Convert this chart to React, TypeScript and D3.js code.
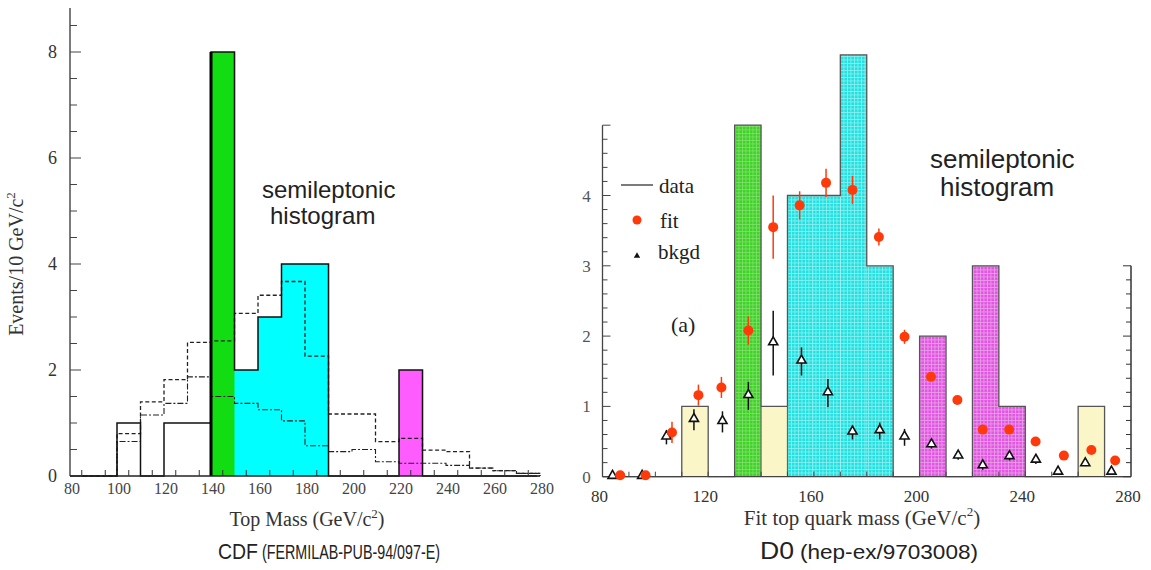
import React from 'react';
import * as d3 from 'd3';

// ---------- shared bins (GeV/c^2) ----------
const binStarts = d3.range(80, 280, 10);

// ---------- CDF panel ----------
const cdfCounts = [0, 0, 1, 0, 1, 1, 8, 2, 3, 4, 4, 0, 0, 0, 2, 0, 0, 0, 0, 0];
const cdfColors = ['', '', '', '', '', '', 'green', 'cyan', 'cyan', 'cyan', 'cyan', '', '', '', 'magenta', '', '', '', '', ''];
const cdfSigBkg = [0, 0, 0.8, 1.4, 1.82, 2.52, 2.55, 3.07, 3.41, 3.67, 2.26, 1.17, 1.17, 0.65, 0.71, 0.49, 0.46, 0.15, 0.1, 0.05];
const cdfBkg = [0, 0, 0.65, 1.15, 1.37, 1.87, 1.5, 1.37, 1.25, 1.04, 0.57, 0.46, 0.5, 0.27, 0.24, 0.24, 0.2, 0.15, 0.1, 0.05];
const cdfYLabels = [0, 2, 4, 6, 8];
const cdfXLabels = [80, 100, 120, 140, 160, 180, 200, 220, 240, 260, 280];

// ---------- D0 panel ----------
const d0Counts = [0, 0, 0, 1, 0, 5, 1, 4, 4, 6, 3, 0, 2, 0, 3, 1, 0, 0, 1, 0];
const d0Colors = ['', '', '', 'beige', '', 'green', 'beige', 'cyan', 'cyan', 'cyan', 'cyan', '', 'magenta', '', 'magenta', 'magenta', '', '', 'beige', ''];
const d0FitMass = [86.7, 96.3, 106.3, 116.3, 125, 135.2, 144.6, 154.6, 164.6, 174.6, 184.6, 194.3, 204.3, 214.3, 223.9, 233.9, 243.9, 254.6, 265, 274];
const d0Fit = [0.02, 0.02, 0.63, 1.16, 1.27, 2.08, 3.55, 3.86, 4.18, 4.08, 3.41, 1.99, 1.42, 1.09, 0.67, 0.67, 0.5, 0.3, 0.38, 0.23];
const d0FitErr = [0, 0, 0.15, 0.15, 0.15, 0.2, 0.45, 0.2, 0.2, 0.2, 0.12, 0.1, 0.05, 0.05, 0.05, 0.05, 0.05, 0.03, 0.05, 0.03];
const d0BkgMass = [83.8, 95, 104.2, 114.6, 125.4, 135.2, 144.6, 155.3, 165.3, 174.6, 184.9, 194.3, 204.5, 214.6, 223.9, 234, 244, 252.4, 262.7, 272.6];
const d0Bkg = [0.0, 0.0, 0.56, 0.81, 0.78, 1.15, 1.9, 1.64, 1.19, 0.63, 0.65, 0.56, 0.45, 0.29, 0.15, 0.28, 0.23, 0.06, 0.18, 0.06];
const d0BkgErr = [0, 0, 0.1, 0.15, 0.15, 0.2, 0.46, 0.2, 0.2, 0.1, 0.12, 0.12, 0.05, 0.05, 0.05, 0.05, 0.05, 0.03, 0.03, 0.03];
const d0YLabels = [0, 1, 2, 3, 4];
const d0XLabels = [80, 120, 160, 200, 240, 280];

const cdfFillColor: Record<string, string> = { green: '#12dd12', cyan: '#00ffff', magenta: '#ff5cff' };
const d0Base: Record<string, string> = { green: '#42d02a', cyan: '#26e0e0', magenta: '#e058e0', beige: '#faf6c8' };
const d0Grid: Record<string, string> = { green: '#7fe26a', cyan: '#8af2f2', magenta: '#eea0ee', beige: '#faf6c8' };

const serif = '"Liberation Serif", "DejaVu Serif", serif';
const sans = '"Liberation Sans", Arial, sans-serif';

function stepPath(x: d3.ScaleLinear<number, number>, y: d3.ScaleLinear<number, number>, vals: number[]) {
  const pts: [number, number][] = [[80, 0], ...binStarts.map((b, i) => [b, vals[i]] as [number, number]), [280, 0]];
  return d3.line<[number, number]>().x(d => x(d[0])).y(d => y(d[1])).curve(d3.curveStepAfter)(pts) || '';
}

export default function App() {
  // CDF scales
  const cx = d3.scaleLinear().domain([80, 280]).range([70, 540]);
  const cy = d3.scaleLinear().domain([0, 8]).range([476, 52]);
  // D0 scales
  const dx = d3.scaleLinear().domain([80, 280]).range([602.5, 1131]);
  const dy = d3.scaleLinear().domain([0, 5]).range([476.7, 125.2]);

  const cdfMinorY = d3.range(0, 8.51, 0.5);
  const cdfXTicks = d3.range(85, 280, 10);
  const d0LeftTicks = d3.range(0, 5.01, 0.2);
  const d0RightTicks = d3.range(0, 3.01, 0.2);
  const d0XTicks = d3.range(90, 280, 10);
  const tri = d3.symbol(d3.symbolTriangle, 36)() || '';
  const triSmall = d3.symbol(d3.symbolTriangle, 18)() || '';

  return (
    <svg width={1151} height={570} style={{ position: 'absolute', left: 0, top: 0, background: '#fff' }}>
      <defs>
        {['green', 'cyan', 'magenta'].map(c => (
          <pattern key={c} id={`grid-${c}`} width={3.5} height={3.5} patternUnits="userSpaceOnUse">
            <rect width={3.5} height={3.5} fill={d0Base[c]} />
            <path d="M0,0.4H3.5M0.4,0V3.5" stroke={d0Grid[c]} strokeWidth={0.8} />
          </pattern>
        ))}
      </defs>

      {/* ================= CDF ================= */}
      <g>
        {binStarts.map((b, i) =>
          cdfColors[i] ? (
            <rect key={b} x={cx(b)} y={cy(cdfCounts[i])} width={cx(b + 10) - cx(b) + 0.6} height={cy(0) - cy(cdfCounts[i])}
              fill={cdfFillColor[cdfColors[i]]} />
          ) : null
        )}
        <path d={stepPath(cx, cy, cdfSigBkg)} fill="none" stroke="#222" strokeWidth={1.3} strokeDasharray="4,2.5" />
        <path d={stepPath(cx, cy, cdfBkg)} fill="none" stroke="#222" strokeWidth={1.1} strokeDasharray="6,2,2,2" />
        <path d={stepPath(cx, cy, cdfCounts)} fill="none" stroke="#111" strokeWidth={1.5} />
        <line x1={cx(140)} x2={cx(140)} y1={cy(0)} y2={cy(8)} stroke="#000" strokeWidth={3} />
        {/* axes */}
        <line x1={cx(80)} x2={cx(80)} y1={cy(0)} y2={8} stroke="#333" strokeWidth={1.3} />
        <line x1={cx(80)} x2={cx(280) - 3} y1={cy(0)} y2={cy(0)} stroke="#222" strokeWidth={1.5} />
        {cdfMinorY.map(v => (
          <line key={v} x1={cx(80)} x2={cx(80) + (v % 2 === 0 ? 11 : 7)} y1={cy(v)} y2={cy(v)} stroke="#444" strokeWidth={1} />
        ))}
        {cdfXTicks.map(v => (
          <line key={v} x1={cx(v)} x2={cx(v)} y1={cy(0)} y2={cy(0) - 6} stroke="#333" strokeWidth={1} />
        ))}
        {cdfYLabels.map(v => (
          <text key={v} x={cx(80) - 13} y={cy(v) + 6} textAnchor="end" fontFamily={serif} fontSize={18} fill="#333">{v}</text>
        ))}
        {cdfXLabels.map(v => (
          <text key={v} x={cx(v) + 2} y={494} textAnchor="middle" fontFamily={serif} fontSize={16} fill="#444">{v}</text>
        ))}
        <text transform="translate(23,264) rotate(-90)" textAnchor="middle" fontFamily={serif} fontSize={20} fill="#333">
          Events/10 GeV/c<tspan dy={-8} fontSize={13}>2</tspan>
        </text>
        <text x={307} y={526} textAnchor="middle" fontFamily={serif} fontSize={20} fill="#333">
          Top Mass (GeV/c<tspan dy={-8} fontSize={13}>2</tspan><tspan dy={8}>)</tspan>
        </text>
        <text x={262} y={198} fontFamily={sans} fontSize={24} fill="#222">semileptonic</text>
        <text x={270} y={224} fontFamily={sans} fontSize={24} fill="#222">histogram</text>
        <text x={218} y={559} fontFamily={sans} fontSize={22} fill="#222" textLength={40} lengthAdjust="spacingAndGlyphs">CDF</text>
        <text x={262} y={559} fontFamily={sans} fontSize={21} fill="#222" textLength={178} lengthAdjust="spacingAndGlyphs">(FERMILAB-PUB-94/097-E)</text>
      </g>

      {/* ================= D0 ================= */}
      <g>
        {binStarts.map((b, i) =>
          d0Colors[i] ? (
            <rect key={b} x={dx(b)} y={dy(d0Counts[i])} width={dx(b + 10) - dx(b)} height={dy(0) - dy(d0Counts[i])}
              fill={d0Colors[i] === 'beige' ? d0Base.beige : `url(#grid-${d0Colors[i]})`} />
          ) : null
        )}
        <path d={stepPath(dx, dy, d0Counts)} fill="none" stroke="#555" strokeWidth={1.3} />
        {/* separations between adjacent bars of different colour */}
        {binStarts.map((b, i) =>
          i > 0 && d0Colors[i] && d0Colors[i - 1] && d0Colors[i] !== d0Colors[i - 1] ? (
            <line key={`s${b}`} x1={dx(b)} x2={dx(b)} y1={dy(0)} y2={dy(Math.min(d0Counts[i], d0Counts[i - 1]))} stroke="#666" strokeWidth={1.2} />
          ) : null
        )}
        {/* axes */}
        <line x1={dx(80)} x2={dx(80)} y1={dy(0)} y2={dy(5)} stroke="#444" strokeWidth={1.3} />
        <line x1={dx(80)} x2={dx(280)} y1={dy(0)} y2={dy(0)} stroke="#444" strokeWidth={1.3} />
        <line x1={dx(280)} x2={dx(280)} y1={dy(0)} y2={dy(3)} stroke="#333" strokeWidth={1.5} />
        {d0LeftTicks.map(v => (
          <line key={v} x1={dx(80)} x2={dx(80) + (Math.abs(v - Math.round(v)) < 0.01 ? 8 : 5)} y1={dy(v)} y2={dy(v)} stroke="#444" strokeWidth={1} />
        ))}
        {d0RightTicks.map(v => (
          <line key={v} x1={dx(280)} x2={dx(280) - (Math.abs(v - Math.round(v)) < 0.01 ? 8 : 5)} y1={dy(v)} y2={dy(v)} stroke="#333" strokeWidth={1} />
        ))}
        {d0XTicks.map(v => (
          <line key={v} x1={dx(v)} x2={dx(v)} y1={dy(0)} y2={dy(0) - 5} stroke="#444" strokeWidth={1} />
        ))}
        {d0YLabels.map(v => (
          <text key={v} x={dx(80) - 16} y={dy(v) + 6} textAnchor="middle" fontFamily={serif} fontSize={17} fill="#555">{v}</text>
        ))}
        {d0XLabels.map(v => (
          <text key={v} x={dx(v) - 3} y={502} textAnchor="middle" fontFamily={serif} fontSize={17} fill="#333">{v}</text>
        ))}
        {/* bkgd points */}
        {d0Bkg.map((v, i) => (
          <g key={`b${i}`}>
            {d0BkgErr[i] > 0 && (
              <line x1={dx(d0BkgMass[i])} x2={dx(d0BkgMass[i])} y1={dy(v - d0BkgErr[i])} y2={dy(v + d0BkgErr[i])} stroke="#111" strokeWidth={1.5} />
            )}
            <path d={tri} transform={`translate(${dx(d0BkgMass[i])},${dy(v) - 1})`} fill="#fff" stroke="#111" strokeWidth={1.6} />
          </g>
        ))}
        {/* fit points */}
        {d0Fit.map((v, i) => (
          <g key={`f${i}`}>
            {d0FitErr[i] > 0 && (
              <line x1={dx(d0FitMass[i])} x2={dx(d0FitMass[i])} y1={dy(v - d0FitErr[i])} y2={dy(v + d0FitErr[i])} stroke="#ff3a0a" strokeWidth={1.5} />
            )}
            <circle cx={dx(d0FitMass[i])} cy={dy(v)} r={5} fill="#ff3a0a" />
          </g>
        ))}
        {/* legend */}
        <line x1={621} x2={653} y1={185} y2={185} stroke="#333" strokeWidth={1.3} />
        <text x={659} y={193} fontFamily={serif} fontSize={21} fill="#222">data</text>
        <circle cx={637} cy={220} r={4.5} fill="#ff3a0a" />
        <text x={660} y={228} fontFamily={serif} fontSize={21} fill="#222">fit</text>
        <path d={triSmall} transform="translate(637,256)" fill="#111" />
        <text x={658} y={259} fontFamily={serif} fontSize={21} fill="#222">bkgd</text>
        <text x={671} y={332} fontFamily={serif} fontSize={22} fill="#222">(a)</text>

        <text x={930} y={168} fontFamily={sans} fontSize={26} fill="#222">semileptonic</text>
        <text x={940} y={196} fontFamily={sans} fontSize={26} fill="#222">histogram</text>

        <text x={862} y={525} textAnchor="middle" fontFamily={serif} fontSize={21} fill="#333">
          Fit top quark mass (GeV/c<tspan dy={-9} fontSize={13}>2</tspan><tspan dy={9}>)</tspan>
        </text>
        <text x={760} y={559} fontFamily={sans} fontSize={24} fill="#222" textLength={34} lengthAdjust="spacingAndGlyphs">D0</text>
        <text x={800} y={559} fontFamily={sans} fontSize={21} fill="#222" textLength={178} lengthAdjust="spacingAndGlyphs">(hep-ex/9703008)</text>
      </g>
    </svg>
  );
}
